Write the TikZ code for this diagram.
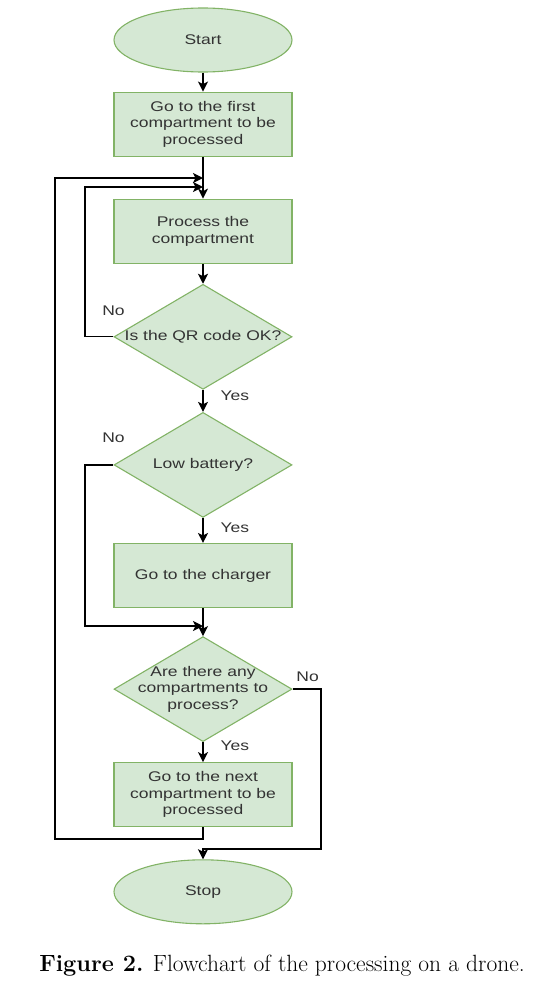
\documentclass[tikz,border=0pt]{standalone}
\usepackage{fontspec}
\setsansfont{Liberation Sans}[FakeStretch=1.25]
\usetikzlibrary{arrows.meta,shapes.geometric,positioning}
\definecolor{boxfill}{HTML}{D5E8D4}
\definecolor{boxline}{HTML}{82B366}
\definecolor{txtgray}{HTML}{333333}

\begin{document}
\begin{tikzpicture}[x=1pt,y=1pt,->,>={Stealth[length=10pt,width=10pt,inset=2.5pt]},line width=1.3pt,
  every node/.style={font=\sffamily\fontsize{14}{16.5}\selectfont,text=txtgray},
  terminal/.style={ellipse,draw=boxline,fill=boxfill,line width=1.1pt,minimum width=178pt,minimum height=64pt,inner sep=0pt},
  process/.style={rectangle,draw=boxline,fill=boxfill,line width=1.1pt,minimum width=178pt,minimum height=64pt,align=center,inner sep=0pt},
  decision/.style={diamond,draw=boxline,fill=boxfill,line width=1.1pt,minimum width=178pt,minimum height=105pt,inner sep=0pt},
  ans/.style={inner sep=0pt}]
\useasboundingbox (0,0) rectangle (540,-991);

\node[terminal] (start) at (203,-40) {Start};
\node[process] (first) [below=19pt of start] {Go to the first\\compartment to be\\processed};
\node[process] (proc) [below=42pt of first] {Process the\\compartment};
\node[decision] (qr) [below=20pt of proc, label=center:{Is the QR code OK?}] {};
\node[decision] (bat) [below=22pt of qr, label=center:{Low battery?}] {};
\node[process] (charger) [below=25pt of bat] {Go to the charger};
\node[decision] (more) [below=28pt of charger, label={[align=center]center:{Are there any\\compartments to\\process?}}] {};
\node[process] (next) [below=20pt of more] {Go to the next\\compartment to be\\processed};
\node[terminal] (stop) [below=32pt of next] {Stop};

% loop corners
\coordinate (j1) at (203,-178);
\coordinate (j2) at (203,-187);
\coordinate (j3) at (203,-626);
\coordinate (j4) at (203,-849);
\coordinate (c1) at (85,-187);
\coordinate (c2) at (85,-626);
\coordinate (c3) at (55,-839);
\coordinate (c4) at (55,-178);
\coordinate (c5) at (321,-849);

\path (start) edge (first)
      (first) edge (proc)
      (proc) edge (qr)
      (qr) edge node[ans,right=17pt,pos=0.28] {Yes} (bat)
      (bat) edge node[ans,right=17pt,pos=0.38] {Yes} (charger)
      (charger) edge (more)
      (more) edge node[ans,right=17pt,pos=0.2] {Yes} (next);

\draw (qr.west) -| node[ans,pos=0,above=21pt] {No} (c1) -- (j2);
\draw (bat.west) -| node[ans,pos=0,above=22pt] {No} (c2) -- (j3);
\draw (next.south) |- (c3) -- (c4) -- (j1);
\draw (more.east) -| node[ans,pos=0,above=7pt,xshift=15pt] {No} (c5) -- (j4) -- (stop.north);

\node[font=\rmfamily\fontsize{23.5}{28}\selectfont,text=black] (caption) at (282,-966) {\textbf{Figure 2.} Flowchart of the processing on a drone.};
\end{tikzpicture}
\end{document}
